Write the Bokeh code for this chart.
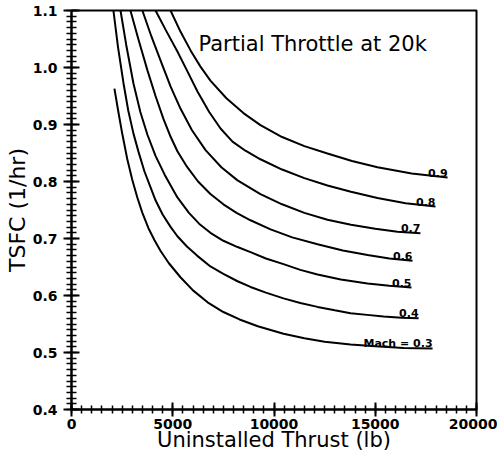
from bokeh.plotting import figure
from bokeh.models import Range1d, Label, SingleIntervalTicker, NumeralTickFormatter, ColumnDataSource
from bokeh.embed import file_html
from bokeh.resources import INLINE
from bokeh.core.properties import value

# ---- data ----
mach_labels = ["Mach = 0.3", "0.4", "0.5", "0.6", "0.7", "0.8", "0.9"]

thrust_m03 = [2120, 2300, 2500, 2750, 3000, 3250, 3500, 3800, 4100, 4400, 4800, 5380, 6000, 6720, 7500,
              8300, 9200, 10470, 11500, 12500, 13780, 15000, 16400, 17830]
tsfc_m03 = [0.963, 0.925, 0.885, 0.840, 0.803, 0.772, 0.745, 0.718, 0.697, 0.678, 0.657, 0.632, 0.609, 0.588,
            0.571, 0.558, 0.546, 0.533, 0.525, 0.519, 0.514, 0.511, 0.508, 0.507]

thrust_m04 = [2070, 2300, 2570, 2800, 3060, 3310, 3600, 3900, 4150, 4500, 4900, 5230, 5700, 6200, 6860, 7500,
              8200, 8840, 9600, 10470, 11300, 12150, 13000, 13780, 14600, 15410, 16300, 17140]
tsfc_m04 = [1.100, 1.035, 0.972, 0.925, 0.884, 0.852, 0.818, 0.790, 0.767, 0.742, 0.720, 0.704, 0.686, 0.670,
            0.651, 0.638, 0.625, 0.615, 0.605, 0.595, 0.587, 0.580, 0.574, 0.569, 0.566, 0.563, 0.561, 0.560]

thrust_m05 = [2420, 2700, 3060, 3400, 3750, 4150, 4600, 5230, 5800, 6300, 6860, 7500, 8200, 8840, 9600, 10470,
              11300, 12150, 13300, 14620, 15700, 16790]
tsfc_m05 = [1.100, 1.040, 0.972, 0.922, 0.882, 0.845, 0.812, 0.772, 0.745, 0.726, 0.710, 0.696, 0.685, 0.676,
            0.665, 0.655, 0.645, 0.637, 0.628, 0.621, 0.617, 0.614]

thrust_m06 = [2910, 3300, 3750, 4150, 4540, 4900, 5230, 5700, 6250, 6860, 7500, 8150, 8840, 9830, 10900,
              12150, 13400, 14620, 15700, 16840]
tsfc_m06 = [1.100, 1.050, 0.995, 0.950, 0.910, 0.878, 0.853, 0.826, 0.800, 0.778, 0.760, 0.745, 0.732, 0.716,
            0.702, 0.690, 0.679, 0.671, 0.665, 0.661]

thrust_m07 = [3500, 3950, 4400, 4900, 5380, 5950, 6620, 7400, 8200, 9330, 10400, 11500, 12640, 13800, 15000,
              16100, 17230]
tsfc_m07 = [1.100, 1.054, 1.012, 0.966, 0.928, 0.890, 0.855, 0.825, 0.802, 0.778, 0.760, 0.745, 0.733, 0.724,
            0.717, 0.712, 0.709]

thrust_m08 = [4150, 4650, 5230, 5700, 6220, 6800, 7360, 7950, 8590, 9330, 10400, 11500, 12640, 13800, 15110,
              16500, 17975]
tsfc_m08 = [1.100, 1.066, 1.028, 0.995, 0.958, 0.922, 0.893, 0.870, 0.854, 0.839, 0.821, 0.806, 0.793, 0.782,
            0.771, 0.762, 0.756]

thrust_m09 = [4890, 5380, 5880, 6360, 6860, 7650, 8490, 9330, 10400, 11500, 12640, 13850, 15110, 16800, 18570]
tsfc_m09 = [1.100, 1.063, 1.030, 1.002, 0.977, 0.946, 0.920, 0.899, 0.878, 0.862, 0.849, 0.836, 0.825, 0.814,
            0.807]

x_tick_step = 5000
y_tick_step = 0.1

title_text = "Partial Throttle at 20k"
x_label = "Uninstalled Thrust (lb)"
y_label = "TSFC (1/hr)"

curves_t = [thrust_m03, thrust_m04, thrust_m05, thrust_m06, thrust_m07, thrust_m08, thrust_m09]
curves_s = [tsfc_m03, tsfc_m04, tsfc_m05, tsfc_m06, tsfc_m07, tsfc_m08, tsfc_m09]

p = figure(width=497, height=459,
           x_range=Range1d(0, 20000), y_range=Range1d(0.4, 1.1),
           output_backend="svg", toolbar_location=None,
           min_border_left=71, min_border_top=10, min_border_right=21, min_border_bottom=50)
p.grid.visible = False
p.background_fill_color = None
p.border_fill_color = None
p.outline_line_color = "black"
p.outline_line_width = 2

for t, s in zip(curves_t, curves_s):
    p.line(t, s, line_color="black", line_width=2)

# curve labels at curve ends
src = ColumnDataSource(dict(x=[t[-1] for t in curves_t], y=[s[-1] for s in curves_s], txt=mach_labels))
p.text(x="x", y="y", text="txt", source=src, text_align="right", text_baseline="alphabetic",
       y_offset=-5, text_font=value("DejaVu Sans"), text_font_style="bold", text_font_size="11px",
       text_color="black")

p.add_layout(Label(x=6270, y=1.042, text=title_text, text_baseline="alphabetic", text_align="left",
                   text_font="DejaVu Sans", text_font_size="21px", text_color="black"))

# axes
p.xaxis.ticker = SingleIntervalTicker(interval=x_tick_step, num_minor_ticks=10)
p.yaxis.ticker = SingleIntervalTicker(interval=y_tick_step, num_minor_ticks=10)
p.xaxis.formatter = NumeralTickFormatter(format="0")
p.yaxis.formatter = NumeralTickFormatter(format="0.0")

p.axis.axis_line_width = 2
p.axis.axis_line_color = "black"
p.axis.major_tick_line_width = 2
p.axis.minor_tick_line_width = 1.5
p.axis.major_tick_line_color = "black"
p.axis.minor_tick_line_color = "black"
p.axis.major_label_text_font = "DejaVu Sans"
p.axis.major_label_text_font_style = "bold"
p.axis.major_label_text_font_size = "14px"
p.axis.major_label_text_color = "black"
p.axis.axis_label_text_font = "DejaVu Sans"
p.axis.axis_label_text_font_style = "normal"
p.axis.axis_label_text_color = "black"

p.xaxis.major_tick_in = 7
p.xaxis.major_tick_out = 7
p.xaxis.minor_tick_in = 4
p.xaxis.minor_tick_out = 4
p.xaxis.major_label_standoff = 2
p.xaxis.axis_label_standoff = -4
p.xaxis.axis_label_text_font_size = "21px"
p.xaxis.axis_label = x_label
p.yaxis.major_tick_in = 8
p.yaxis.major_tick_out = 8
p.yaxis.minor_tick_in = 5
p.yaxis.minor_tick_out = 5
p.yaxis.major_label_standoff = 6
p.yaxis.axis_label_standoff = 0
p.yaxis.axis_label_text_font_size = "22px"
p.yaxis.axis_label = y_label

open("out.html", "w").write(file_html(p, INLINE))
